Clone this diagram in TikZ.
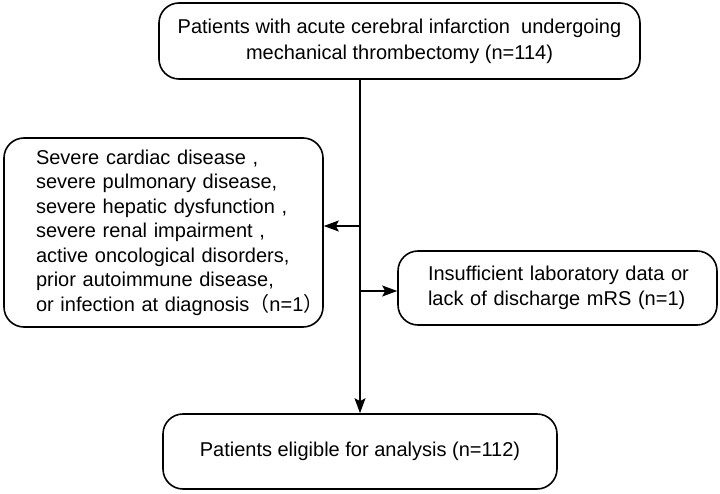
\documentclass[tikz,border=0pt]{standalone}
\usepackage{fontspec}
\setmainfont{Liberation Sans}
\newfontfamily\cjk{Noto Sans CJK SC}
\usetikzlibrary{arrows.meta,positioning,calc}

\tikzset{
  flowbox/.style={draw,line width=1.6pt,rounded corners=20pt,inner sep=0pt,
    font=\fontsize{20}{24.5}\selectfont},
  arr/.style={line width=1.3pt,-{Stealth[length=15pt,width=11pt,inset=3pt]}}
}

\begin{document}
\begin{tikzpicture}[x=1pt,y=-1pt]
      \useasboundingbox (0,0) rectangle (720,494);
      % Enrolled
      \node[flowbox,minimum width=481pt,minimum height=76pt,align=center,
            font=\fontsize{20}{26}\selectfont] (top) at (399.5,41)
        {Patients with acute cerebral infarction\ \ undergoing\\mechanical thrombectomy (n=114)};
      % Exclusions
      \node[flowbox,minimum width=319pt,minimum height=189pt,align=left,text width=255pt] (left) at (163.5,232.5)
        {Severe cardiac disease ,\\severe pulmonary disease,\\severe hepatic dysfunction ,\\severe renal impairment ,\\active oncological disorders,\\prior autoimmune disease,\\\mbox{or infection at diagnosis{\cjk （}n=1{\cjk ）}}};
      \node[flowbox,minimum width=319pt,minimum height=74pt,align=left,text width=259pt] (right) at (557.5,288)
        {\mbox{Insufficient laboratory data or}\\lack of discharge mRS (n=1)};
      % Analysed
      \node[flowbox,minimum width=394pt,minimum height=75pt,align=center] (bot) at (360,451.5)
        {Patients eligible for analysis (n=112)};
      % Connectors
      \coordinate (trunk) at (360,0);
      \coordinate (b1) at (360,226);
      \coordinate (b2) at (360,291);
      \draw[arr] (top.south -| trunk) -- (bot.north -| trunk);
      \draw[arr] (b1) -- (b1 -| left.east);
      \draw[arr] (b2) -- (b2 -| right.west);
\end{tikzpicture}
\end{document}
